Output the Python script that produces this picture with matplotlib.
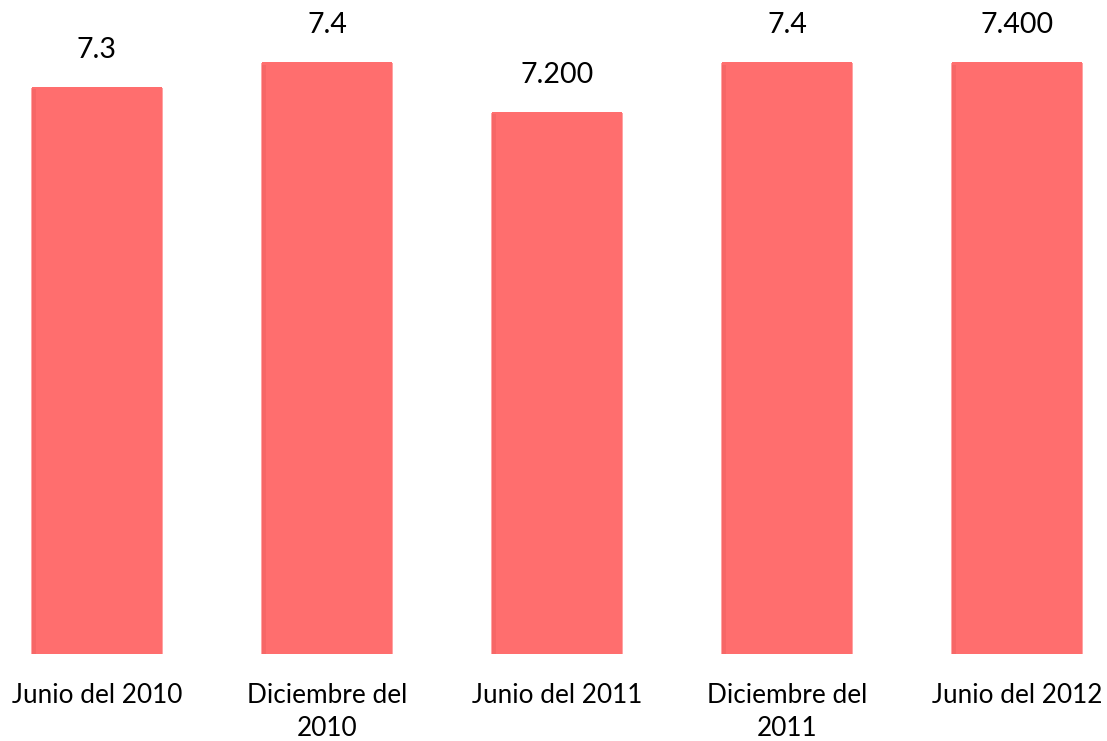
import matplotlib.pyplot as plt
import numpy as np

# data
categories = ["Junio del 2010", "Diciembre del\n2010", "Junio del 2011",
              "Diciembre del\n2011", "Junio del 2012"]
values = [7.3, 7.4, 7.2, 7.4, 7.4]
value_labels = ["7.3", "7.4", "7.200", "7.4", "7.400"]

plt.rcParams['font.family'] = ['Lato', 'DejaVu Sans']

fig = plt.figure(figsize=(11.07, 7.41), dpi=100)
ax = fig.add_axes([0, (741 - 654) / 741, 1, 654 / 741])

x = np.arange(len(categories))
bar_color = "#FF6E6E"
width = 0.565
heights = np.array(values) - 5.0

# soft blurred edge: a few faint wider bars behind the main one
for extra, a in [(0.012, 0.25), (0.006, 0.5)]:
    ax.bar(x, heights - 0.004, width=width + extra, bottom=5.0,
           color=bar_color, alpha=a, linewidth=0)
ax.bar(x, heights, width=width, bottom=5.0, color=bar_color, linewidth=0)
# slightly darker left edge shading
ax.bar(x - width / 2 + 0.008, heights - 0.01, width=0.016, bottom=5.0,
       color="#E85A5A", alpha=0.35, linewidth=0)

for xi, v, lab in zip(x, values, value_labels):
    ax.annotate(lab, (xi, v), xytext=(0, 37), textcoords="offset pixels",
                ha="center", va="center", fontsize=20.5, color="black")

ax.set_xlim(-0.4217, 4.391)
ax.set_ylim(5.0, 7.653)
ax.set_xticks(x)
ax.set_xticklabels(categories, fontsize=18.8, linespacing=1.4, va="top")
ax.tick_params(axis="x", length=0, pad=21)
ax.set_yticks([])
for s in ax.spines.values():
    s.set_visible(False)

fig.savefig("out.png", dpi=100)
